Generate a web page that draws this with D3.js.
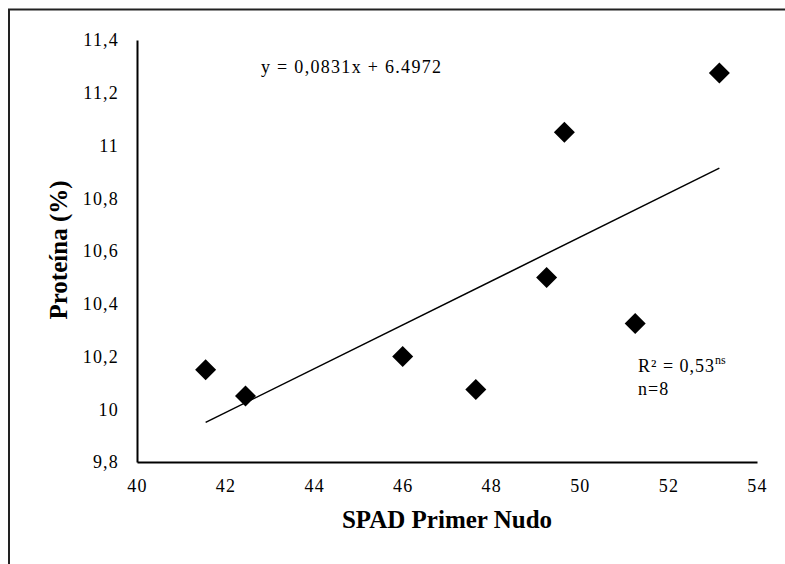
<!DOCTYPE html>
<html>
<head>
<meta charset="utf-8">
<script src="https://cdn.jsdelivr.net/npm/d3@7"></script>
<style>
  body { margin: 0; background: #fff; }
</style>
</head>
<body>
<div id="chart"></div>
<script>
// data
var spad     = [41.55, 42.45, 46.0, 47.65, 49.25, 49.65, 51.25, 53.15];
var proteina = [10.15, 10.05, 10.2, 10.075, 10.5, 11.05, 10.325, 11.275];
var xTicks = [40, 42, 44, 46, 48, 50, 52, 54];
var yTicks = [9.8, 10, 10.2, 10.4, 10.6, 10.8, 11, 11.2, 11.4];
var slope = 0.0831, intercept = 6.4972;

var W = 785, H = 564;
var margin = {top: 40, right: 28, bottom: 102, left: 137};
var FONT = "'Liberation Serif'";

var svg = d3.select("#chart").append("svg")
    .attr("width", W)
    .attr("height", H);

// outer frame (only top and left visible)
svg.append("path")
    .attr("d", "M9," + H + "V9.5H" + W)
    .attr("fill", "none")
    .attr("stroke", "#222")
    .attr("stroke-width", 2);

var x = d3.scaleLinear().domain([40, 54]).range([margin.left, W - margin.right]);
var y = d3.scaleLinear().domain([9.8, 11.4]).range([H - margin.bottom, margin.top]);

var fmt = function(d) { return String(+d.toFixed(1)).replace(".", ","); };

// X axis
var gx = svg.append("g")
    .attr("transform", "translate(0," + y(9.8) + ")")
    .call(d3.axisBottom(x).tickValues(xTicks).tickSize(0).tickPadding(17).tickFormat(fmt));
gx.attr("font-family", null).attr("font-size", null);
gx.select(".domain").attr("stroke", "#000").attr("stroke-width", 2);
gx.selectAll("text")
    .style("font-size", "18px").style("font-family", FONT)
    .style("letter-spacing", "1.2px")
    .attr("fill", "#000");

// Y axis
var gy = svg.append("g")
    .attr("transform", "translate(" + x(40) + ",0)")
    .call(d3.axisLeft(y).tickValues(yTicks).tickSize(0).tickPadding(18).tickFormat(fmt));
gy.attr("font-family", null).attr("font-size", null);
gy.select(".domain").attr("stroke", "#000").attr("stroke-width", 2);
gy.selectAll("text")
    .style("font-size", "18px").style("font-family", FONT)
    .style("letter-spacing", "1.2px")
    .attr("fill", "#000");

// trend line
var x0 = d3.min(spad), x1 = d3.max(spad);
svg.append("line")
    .attr("x1", x(x0)).attr("y1", y(slope * x0 + intercept))
    .attr("x2", x(x1)).attr("y2", y(slope * x1 + intercept))
    .attr("stroke", "#000")
    .attr("stroke-width", 1.5);

// points
svg.selectAll("path.pt")
    .data(spad)
    .enter()
    .append("path")
    .attr("class", "pt")
    .attr("d", "M0,-10.5L10.5,0L0,10.5L-10.5,0Z")
    .attr("transform", function(d, i) { return "translate(" + x(d) + "," + y(proteina[i]) + ")"; })
    .attr("fill", "#000");

// equation
svg.append("text")
    .attr("x", 261).attr("y", 73)
    .style("font-family", FONT)
    .style("font-size", "18px")
    .style("letter-spacing", "1.3px")
    .text("y = 0,0831x + 6.4972");

// R2 and n
var r2 = svg.append("text")
    .attr("x", 638).attr("y", 372)
    .style("font-family", FONT)
    .style("font-size", "18px")
    .style("letter-spacing", "1px");
r2.append("tspan").text("R² = 0,53");
r2.append("tspan").attr("dy", -8).style("font-size", "12px").style("letter-spacing", "0px").text("ns");
svg.append("text")
    .attr("x", 638).attr("y", 395)
    .style("font-family", FONT)
    .style("font-size", "18px")
    .style("letter-spacing", "1px")
    .text("n=8");

// axis titles
svg.append("text")
    .attr("x", 447).attr("y", 528)
    .attr("text-anchor", "middle")
    .style("font-family", FONT)
    .style("font-size", "25px")
    .style("font-weight", "bold")
    .text("SPAD Primer Nudo");

svg.append("text")
    .attr("transform", "translate(67,250) rotate(-90)")
    .attr("text-anchor", "middle")
    .style("font-family", FONT)
    .style("font-size", "25px")
    .style("font-weight", "bold")
    .text("Proteína (%)");
</script>
</body>
</html>
